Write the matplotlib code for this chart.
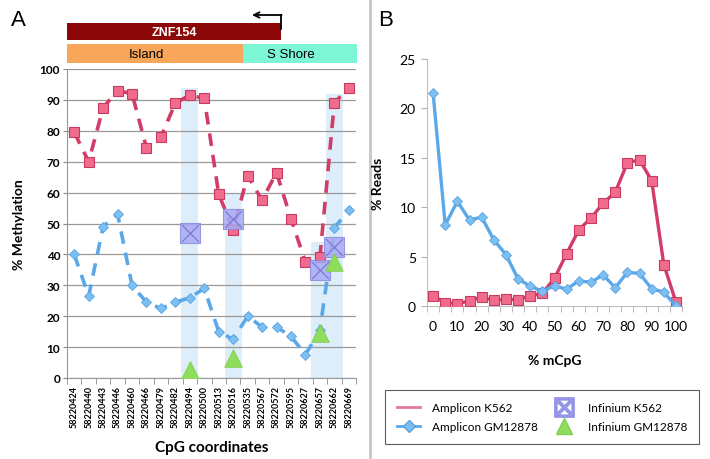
import matplotlib
matplotlib.use("Agg")
import matplotlib.pyplot as plt
from matplotlib.lines import Line2D
from matplotlib.patches import Rectangle
import numpy as np

plt.rcParams['font.family'] = ['Lato', 'DejaVu Sans']

# ---------------- data ----------------
cpg_coords = ["58220424", "58220440", "58220443", "58220446", "58220460", "58220466",
              "58220479", "58220482", "58220494", "58220500", "58220513", "58220516",
              "58220535", "58220567", "58220572", "58220595", "58220627", "58220657",
              "58220662", "58220669"]
amp_k562 = [79.5, 70, 87.5, 93, 92, 74.5, 78, 89, 91.5, 90.5, 59.5, 48,
            65.5, 57.5, 66.5, 51.5, 37.5, 39, 89, 94]
amp_gm = [40, 26.5, 49, 53, 30, 24.5, 22.5, 24.5, 26, 29, 15, 12.5,
          20, 16.5, 16.5, 13.5, 7.5, 15.5, 48.5, 54.5]
inf_idx = [8, 11, 17, 18]
inf_k562 = [47, 51.5, 35, 42.5]
inf_gm = [2.5, 6.5, 14.5, 37.5]
highlight_idx = [8, 11, 17, 18]
highlight_top = [94, 60, 44, 92]

mcpg = [0, 5, 10, 15, 20, 25, 30, 35, 40, 45, 50, 55, 60, 65, 70, 75, 80, 85, 90, 95, 100]
reads_k562 = [1.0, 0.35, 0.25, 0.5, 0.9, 0.57, 0.67, 0.65, 1.0, 1.3, 2.8, 5.3, 7.7, 8.9,
              10.4, 11.5, 14.5, 14.8, 12.7, 4.2, 0.4]
reads_gm = [21.6, 8.2, 10.6, 8.7, 9.0, 6.7, 5.2, 2.75, 2.0, 1.5, 2.05, 1.7, 2.55, 2.4,
            3.15, 1.85, 3.4, 3.3, 1.75, 1.4, 0.0]

RED = '#d23c66'
RED_FACE = '#f06b8c'
BLUE = '#5aa8ea'
BLUE_FACE = '#7cc0f2'
PURPLE_FACE = '#a9a9f4'
PURPLE_EDGE = '#8a8ae0'
GREEN = '#8fdd5c'
BAND = '#ddedf9'

W, H = 710, 460
fig = plt.figure(figsize=(W / 100, H / 100), dpi=100)

def frac(x0, y0, x1, y1):
    return [x0 / W, 1 - y1 / H, (x1 - x0) / W, (y1 - y0) / H]

# ---------------- panel A ----------------
ax = fig.add_axes(frac(67, 70, 356, 379))
x = np.arange(len(cpg_coords))
ax.set_xlim(-0.5, len(cpg_coords) - 0.5)
ax.set_ylim(0, 100)
ax.set_axisbelow(True)
ax.grid(axis='y', color='#9a9a9a', linewidth=0.9)
ax.bar(highlight_idx, highlight_top, width=1.2, color=BAND, zorder=0.4, linewidth=0)

ax.plot(x, amp_k562, linestyle=(0, (3.5, 2.5)), color=RED, linewidth=2.6,
        marker='s', markersize=7, markerfacecolor=RED_FACE, markeredgecolor='#c93a60',
        markeredgewidth=0.8, zorder=3)
ax.plot(x, amp_gm, linestyle=(0, (3.5, 2.5)), color=BLUE, linewidth=2.6,
        marker='D', markersize=5, markerfacecolor=BLUE_FACE, markeredgecolor='#5aa0e0',
        markeredgewidth=0.6, zorder=3)
ax.scatter(inf_idx, inf_k562, marker='s', s=190, facecolor=PURPLE_FACE,
           edgecolor=PURPLE_EDGE, linewidth=0.8, alpha=0.85, zorder=4)
ax.scatter(inf_idx, inf_k562, marker='x', s=150, color='#7f7fd8', linewidth=1.0, zorder=5)
ax.scatter(inf_idx, inf_gm, marker='^', s=160, facecolor=GREEN, edgecolor='#7fcf50',
           linewidth=0.6, zorder=4)

ax.set_yticks(np.arange(0, 101, 10))
ax.set_yticklabels([str(v) for v in range(0, 101, 10)], fontsize=8.5, fontweight='bold')
ax.set_xticks(x)
ax.set_xticklabels(cpg_coords, rotation=90, fontsize=6.5, fontweight='bold')
ax.set_xticks(np.arange(-0.5, len(cpg_coords)), minor=True)
ax.tick_params(axis='x', which='major', length=0, pad=5)
ax.tick_params(axis='x', which='minor', length=4, color='#8a8a8a', direction='out')
ax.tick_params(axis='y', length=3, color='#8a8a8a', pad=2)
for s in ['top', 'right']:
    ax.spines[s].set_visible(False)
ax.spines['left'].set_color('#9a9a9a')
ax.spines['bottom'].set_color('#9a9a9a')
ax.set_ylabel('% Methylation', fontsize=10, fontweight='bold')
ax.yaxis.set_label_coords(-0.145, 0.5)
ax.set_xlabel('CpG coordinates', fontsize=11, fontweight='bold')
ax.xaxis.set_label_coords(0.5, -0.2)

# header annotation
hax = fig.add_axes(frac(0, 0, W, H), zorder=-1)
hax.set_xlim(0, W)
hax.set_ylim(H, 0)
hax.axis('off')
hax.add_patch(Rectangle((67, 24), 214, 17, color='#8c0707', linewidth=0))
hax.text(174, 33, 'ZNF154', color='white', fontsize=9, fontweight='bold',
         ha='center', va='center', family=['Liberation Sans', 'DejaVu Sans'])
hax.plot([281, 281], [30, 16], color='black', linewidth=1.3)
hax.annotate('', xy=(252, 16), xytext=(281.6, 16),
             arrowprops=dict(arrowstyle='->', color='black', lw=1.3, shrinkA=0, shrinkB=0))
hax.add_patch(Rectangle((67, 45), 176, 19, color='#f8a75a', linewidth=0))
hax.add_patch(Rectangle((243, 45), 114, 19, color='#7cf6d4', linewidth=0))
hax.text(146, 55, 'Island', fontsize=9.5, ha='center', va='center',
         family=['Liberation Sans', 'DejaVu Sans'])
hax.text(291, 55, 'S Shore', fontsize=9.5, ha='center', va='center',
         family=['Liberation Sans', 'DejaVu Sans'])
hax.text(18, 20, 'A', fontsize=16, ha='center', va='center',
         family=['Liberation Sans', 'DejaVu Sans'])
hax.text(386, 20, 'B', fontsize=16, ha='center', va='center',
         family=['Liberation Sans', 'DejaVu Sans'])
hax.plot([369.5, 369.5], [0, H], color='#c8c8c8', linewidth=2)

# ---------------- panel B ----------------
bx = fig.add_axes(frac(427, 60, 682, 307))
bx.set_xlim(-2.5, 102.5)
bx.set_ylim(0, 25)
bx.plot(mcpg, reads_k562, color=RED, linewidth=2.4, marker='s', markersize=7.5,
        markerfacecolor=RED_FACE, markeredgecolor='#c93a60', markeredgewidth=0.8, zorder=3)
bx.plot(mcpg, reads_gm, color=BLUE, linewidth=2.4, marker='D', markersize=5.5,
        markerfacecolor=BLUE_FACE, markeredgecolor='#5aa0e0', markeredgewidth=0.6, zorder=3)
bx.set_yticks(np.arange(0, 26, 5))
bx.set_yticklabels([str(v) for v in range(0, 26, 5)], fontsize=10)
bx.set_xticks(np.arange(0, 101, 10))
bx.set_xticklabels([str(v) for v in range(0, 101, 10)], fontsize=10)
bx.set_xticks(np.arange(-2.5, 103, 5), minor=True)
bx.tick_params(axis='x', which='major', length=0, pad=10)
bx.tick_params(axis='x', which='minor', length=4, color='#b0b0b0', direction='out')
bx.tick_params(axis='y', length=4, color='#b0b0b0', pad=4)
for s in ['top', 'right']:
    bx.spines[s].set_visible(False)
bx.spines['left'].set_color('#c0c0c0')
bx.spines['bottom'].set_color('#c0c0c0')
bx.set_ylabel('% Reads', fontsize=10, fontweight='bold')
bx.yaxis.set_label_coords(-0.17, 0.5)
bx.set_xlabel('% mCpG', fontsize=10, fontweight='bold')
bx.xaxis.set_label_coords(0.5, -0.195)

# ---------------- legend ----------------
handles = [
    Line2D([], [], color='#e07b98', linewidth=2),
    Line2D([], [], color=BLUE, linewidth=2, marker='D', markersize=6,
           markerfacecolor=BLUE_FACE, markeredgecolor='#5aa0e0'),
    Line2D([], [], linestyle='none', marker='$\\boxtimes$', markersize=14,
           color='#8f8fe6', alpha=0.9),
    Line2D([], [], linestyle='none', marker='^', markersize=11,
           markerfacecolor=GREEN, markeredgecolor='#7fcf50'),
]
labels = ['Amplicon K562', 'Amplicon GM12878', 'Infinium K562', 'Infinium GM12878']
leg = fig.legend(handles, labels, ncol=2, loc='center', mode='expand',
                 bbox_to_anchor=(385 / W, 1 - 448 / H, 314 / W, 60 / H),
                 frameon=True, fancybox=False, edgecolor='#333333', fontsize=8.5,
                 handlelength=2.0, labelspacing=0.7,
                 borderpad=1.0, handletextpad=1.0, borderaxespad=0)
leg.get_frame().set_linewidth(0.8)

fig.savefig('out.png', dpi=100)
